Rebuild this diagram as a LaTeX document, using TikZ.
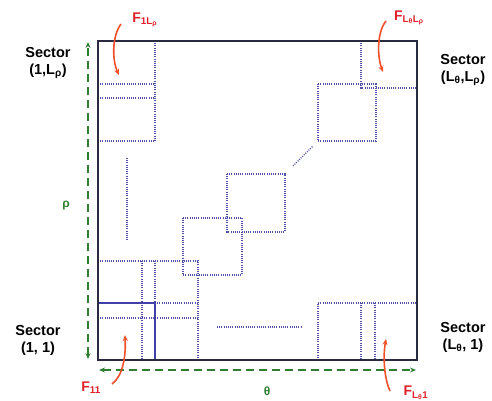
\documentclass[tikz,border=0pt]{standalone}
\usepackage{fontspec}
\setmainfont{Liberation Sans}
\usetikzlibrary{arrows.meta}
\definecolor{frameC}{HTML}{2B2B3F}
\definecolor{dotC}{HTML}{5050A8}
\definecolor{solidC}{HTML}{4040A8}
\definecolor{greenC}{HTML}{2E7D32}
\definecolor{arrC}{HTML}{F0502A}
\definecolor{redT}{HTML}{E0202A}
\tikzset{
  frame/.style={draw=frameC, line width=1.5pt},
  dotl/.style={draw=dotC, line width=1.2pt, dash pattern=on 1pt off 1.2pt},
  solidb/.style={draw=solidC, line width=1.3pt},
  axis/.style={draw=greenC, line width=1.7pt, dash pattern=on 8pt off 5pt, {Stealth[length=6pt,width=5pt]}-{Stealth[length=6pt,width=5pt]}},
  redarr/.style={draw=arrC, line width=1.6pt, -{Stealth[length=6pt,width=5pt]}},
  sector/.style={font=\bfseries\fontsize{14.5}{17}\selectfont, align=center, text=black, inner sep=0pt},
  flab/.style={font=\bfseries\fontsize{14}{16}\selectfont, text=redT, inner sep=0pt},
  glab/.style={font=\bfseries\fontsize{12}{14}\selectfont, text=greenC, inner sep=0pt}
}
\begin{document}
\begin{tikzpicture}[x=1pt,y=-1pt]
\useasboundingbox (0,0) rectangle (492,401);
% dotted structures
\draw[dotl] (155,41) -- (155,141);
\draw[dotl] (98,84) -- (155,84);
\draw[dotl] (98,98) -- (155,98);
\draw[dotl] (98,141) -- (155,141);
\draw[dotl] (127,158) -- (127,240);
\draw[dotl] (227,174) rectangle (285,232);
\draw[dotl] (183,218) rectangle (242,275);
\draw[dotl] (293,166) -- (313,146);
\draw[dotl] (318,84) rectangle (376,141);
\draw[dotl] (361,41) -- (361,88) -- (417,88);
\draw[dotl] (98,261) -- (198,261) -- (198,360);
\draw[dotl] (142,261) -- (142,360);
\draw[dotl] (155,261) -- (155,303);
\draw[dotl] (98,318) -- (198,318);
\draw[dotl] (155,303) -- (198,303);
\draw[dotl] (217,327) -- (302,327);
\draw[dotl] (318,360) -- (318,303) -- (417,303);
\draw[dotl] (361,303) -- (361,360);
\draw[dotl] (375,303) -- (375,360);
% solid blue box
\draw[solidb] (98,303) rectangle (155,360);
% main frame
\draw[frame] (98,41) rectangle (417,360);
% green axes
\coordinate (vtop) at (88,42);
\coordinate (vbot) at (88,359);
\coordinate (hl) at (99,370);
\coordinate (hr) at (416,370);
\draw[axis] (vbot) -- (vtop);
\draw[axis] (hl) -- (hr);
\node[glab] (rho) at (66,206) {ρ};
\node[glab] (theta) at (267,391) {θ};
% sector labels
\node[sector] (s1L) at (48,63) {Sector\\(1,L\textsubscript{ρ})};
\node[sector] (sLL) at (463,70) {Sector\\(L\textsubscript{θ},L\textsubscript{ρ})};
\node[sector] (s11) at (38,340) {Sector\\(1, 1)};
\node[sector] (sL1) at (463,337) {Sector\\(L\textsubscript{θ}, 1)};
% red labels
\node[flab] (f1L) at (145,20) {F\textsubscript{1L\textsubscript{ρ}}};
\node[flab] (fLL) at (409,18) {F\textsubscript{L\textsubscript{θ}L\textsubscript{ρ}}};
\node[flab] (f11) at (91,388) {F\textsubscript{11}};
\node[flab] (fL1) at (416,393) {F\textsubscript{L\textsubscript{θ}1}};
% red arrows
\coordinate (a1s) at (121,24);
\coordinate (a1e) at (119,75);
\draw[redarr] (a1s) .. controls (112,36) and (112,60) .. (a1e);
\coordinate (a2s) at (386,21);
\coordinate (a2e) at (383,72);
\draw[redarr] (a2s) .. controls (377,32) and (377,56) .. (a2e);
\coordinate (a3s) at (112,384);
\coordinate (a3e) at (125,335);
\draw[redarr] (a3s) .. controls (123,376) and (126,356) .. (a3e);
\coordinate (a4s) at (390,391);
\coordinate (a4e) at (386,339);
\draw[redarr] (a4s) .. controls (384,378) and (383,356) .. (a4e);
\end{tikzpicture}
\end{document}
